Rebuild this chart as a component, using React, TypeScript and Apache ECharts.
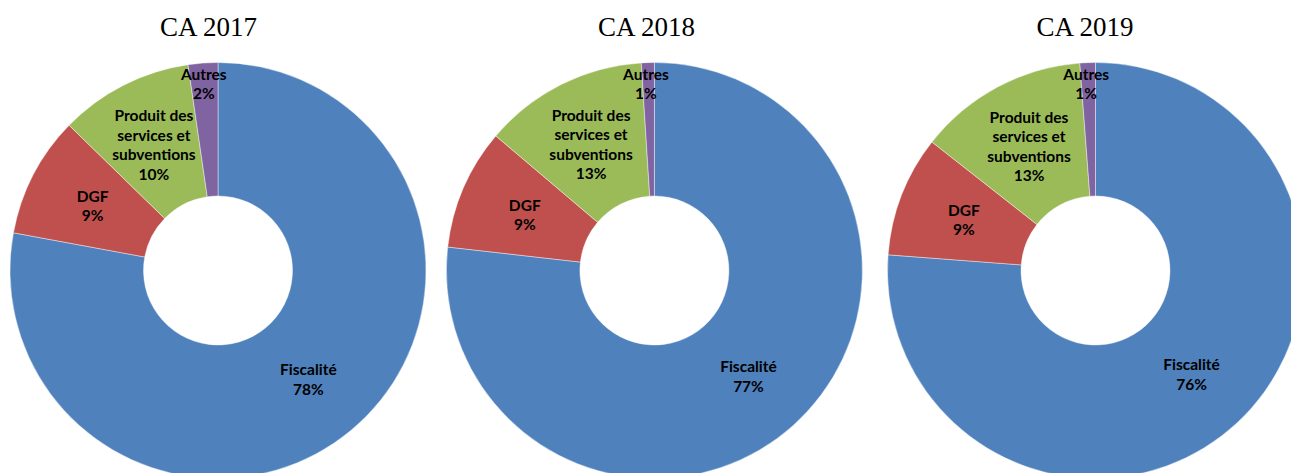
import React, { useEffect, useRef } from "react";
import * as echarts from "echarts";

const titles = ["CA 2017", "CA 2018", "CA 2019"];
const categories = ["Fiscalité", "DGF", "Produit des services et subventions", "Autres"];
const labelNames = ["Fiscalité", "DGF", "Produit des\nservices et\nsubventions", "Autres"];
const values2017 = [77.9, 9.4, 10.4, 2.3];
const values2018 = [76.8, 9.4, 12.8, 1.0];
const values2019 = [76.2, 9.4, 13.2, 1.2];
const colors = ["#4F81BD", "#C0504D", "#9BBB59", "#8064A2"];

const allValues = [values2017, values2018, values2019];
const centersX = [218, 654.4, 1095.5];
const titleX = [208.5, 646.5, 1085];

export default function App() {
  const ref = useRef<HTMLDivElement>(null);
  useEffect(() => {
    if (!ref.current) return;
    const chart = echarts.init(ref.current, null, { renderer: "svg" });
    chart.setOption({
      animation: false,
      backgroundColor: "#ffffff",
      title: titles.map((t, i) => ({
        text: t,
        left: titleX[i],
        top: 13,
        padding: 0,
        textAlign: "center",
        textStyle: {
          fontFamily: "'Liberation Serif', 'Times New Roman', serif",
          fontSize: 27,
          fontWeight: "normal",
          color: "#000000",
        },
      })),
      series: allValues.map((vals, i) => ({
        type: "pie",
        center: [centersX[i], 270.5],
        radius: [74.5, 208],
        startAngle: 90,
        clockwise: true,
        avoidLabelOverlap: false,
        silent: true,
        itemStyle: { borderColor: "rgba(255,255,255,0.7)", borderWidth: 0.6 },
        label: {
          show: true,
          position: "inside",
          fontFamily: "Lato, 'Noto Sans', sans-serif",
          fontWeight: "bold",
          fontSize: 15.5,
          lineHeight: 19.5,
          color: "#000000",
          align: "center",
          formatter: (p: any) => `${labelNames[p.dataIndex]}\n${Math.round(p.value)}%`,
        },
        labelLine: { show: false },
        labelLayout: (p: any) => {
          const total = vals.reduce((a, b) => a + b, 0);
          let before = 0;
          for (let k = 0; k < p.dataIndex; k++) before += vals[k];
          const mid = ((before + vals[p.dataIndex] / 2) / total) * Math.PI * 2;
          const inward = 3;
          let dx = -inward * Math.sin(mid);
          let dy = inward * Math.cos(mid);
          if (p.dataIndex === 3) {
            dx += -4;
            dy += -46;
          }
          return { dx, dy };
        },
        data: categories.map((c, k) => ({
          name: c,
          value: vals[k],
          itemStyle: { color: colors[k] },
        })),
      })),
    });
    return () => chart.dispose();
  }, []);
  return (
    <div
      ref={ref}
      style={{ position: "fixed", left: 0, top: 0, width: 1291, height: 473 }}
    />
  );
}
